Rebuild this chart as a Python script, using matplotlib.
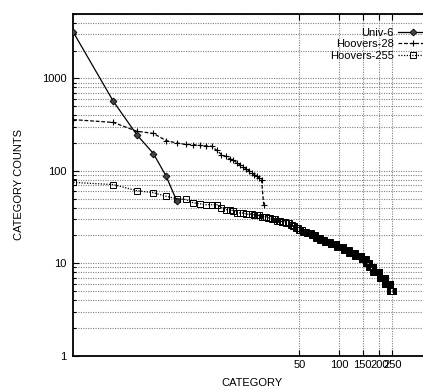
import numpy as np
import matplotlib
matplotlib.use("Agg")
import matplotlib.pyplot as plt
from matplotlib.ticker import FixedLocator, NullLocator, LogLocator, NullFormatter

plt.rcParams['font.family'] = ['Liberation Sans', 'DejaVu Sans']
plt.rcParams['font.size'] = 8

# ---- data ----
univ6 = [3160, 565, 246, 154, 87, 47]
hoovers28 = [358, 334, 268, 254, 212, 200, 193, 192, 188, 186, 184, 166, 150, 143,
             135, 130, 122, 116, 110, 105, 100, 95, 91, 88, 84, 80, 43]
hoovers255 = [
    75, 71, 61, 58, 53, 50, 49, 45, 44, 43, 43, 43, 40, 38, 38, 37,
    35, 35, 35, 34, 34,
    34, 33, 33, 33, 32, 32, 32,
    31, 31, 30, 30, 30, 29, 29,
    29, 28, 28, 28, 27, 27, 27, 26, 26, 25,
    25, 24, 24, 24, 23, 23, 23, 22, 22, 22,
    22, 21, 21, 21, 21, 21, 20, 20, 20, 20,
    20, 19, 19, 19, 19, 19, 18, 18, 18, 18,
    18, 18, 17, 17, 17, 17, 17, 17, 17, 17,
    16, 16, 16, 16, 16, 16, 16, 16, 16, 16,
    15, 15, 15, 15, 15, 15, 15, 15, 15, 15, 15, 15,
    14, 14, 14, 14, 14, 14, 14, 14, 14, 14, 14,
    13, 13, 13, 13, 13, 13, 13, 13, 13, 13, 13, 13, 13,
    12, 12, 12, 12, 12, 12, 12, 12, 12, 12, 12, 12, 12, 12, 12,
    11, 11, 11, 11, 11, 11, 11, 11, 11, 11, 11, 11,
    10, 10, 10, 10, 10, 10, 10, 10, 10,
    9, 9, 9, 9, 9, 9, 9, 9, 9, 9, 9, 9,
    8, 8, 8, 8, 8, 8, 8, 8, 8, 8, 8, 8, 8, 8, 8, 8, 8, 8, 8, 8, 8,
    7, 7, 7, 7, 7, 7, 7, 7, 7, 7, 7, 7, 7, 7, 7, 7, 7, 7, 7, 7,
    6, 6, 6, 6, 6, 6, 6, 6, 6, 6, 6, 6, 6, 6, 6, 6, 6, 6, 6, 6,
    5, 5, 5, 5, 5, 5, 5, 5, 5, 5, 5, 5, 5, 5, 5,
]
labels = ["Univ-6", "Hoovers-28", "Hoovers-255"]
x_ticks = [50, 100, 150, 200, 250]
y_ticks = [1, 10, 100, 1000]

W, H = 423, 389
fig = plt.figure(figsize=(W / 100, H / 100), dpi=100)
left, right, top, bottom = 73.3, 432.3, 13.8, 355.7
ax = fig.add_axes([left / W, 1 - bottom / H, (right - left) / W, (bottom - top) / H])
ax.set_xscale('log')
ax.set_yscale('log')
ax.set_xlim(1, 500)
ax.set_ylim(1, 5000)

grid_kw = dict(color='#808080', linestyle=(0, (1, 1.2)), linewidth=0.8)
ax.xaxis.set_major_locator(FixedLocator(x_ticks))
ax.xaxis.set_minor_locator(NullLocator())
ax.set_xticklabels([str(t) for t in x_ticks])
ax.yaxis.set_major_locator(FixedLocator(y_ticks))
ax.set_yticklabels([str(t) for t in y_ticks])
ax.yaxis.set_minor_locator(LogLocator(base=10, subs=np.arange(2, 10)))
ax.yaxis.set_minor_formatter(NullFormatter())
ax.grid(True, which='major', axis='both', **grid_kw)
ax.grid(True, which='minor', axis='y', **grid_kw)
ax.set_axisbelow(True)

ax.tick_params(which='major', direction='in', length=4, width=0.8, top=True, right=False, pad=3)
ax.tick_params(axis='y', which='major', pad=5)
ax.tick_params(which='minor', direction='in', length=2.5, width=0.8, top=False, right=False)
for s in ['top', 'bottom', 'left']:
    ax.spines[s].set_linewidth(1.3)
ax.spines['right'].set_visible(False)

x6 = np.arange(1, len(univ6) + 1)
x28 = np.arange(1, len(hoovers28) + 1)
x255 = np.arange(1, len(hoovers255) + 1)

ax.plot(x6, univ6, color='black', linestyle='-', linewidth=0.9, marker='D',
        markersize=3.5, markerfacecolor='#444444', markeredgecolor='black',
        markeredgewidth=0.6, label=labels[0], zorder=4)
ax.plot(x28, hoovers28, color='black', linestyle=(0, (3, 1.5)), linewidth=0.9, marker='+',
        markersize=4, markeredgewidth=0.8, label=labels[1], zorder=3)
ax.plot(x255, hoovers255, color='black', linestyle=(0, (1, 1.2)), linewidth=0.9, marker='s',
        markersize=4.2, markerfacecolor='none', markeredgecolor='black',
        markeredgewidth=0.7, label=labels[2], zorder=3)

ax.set_xlabel('CATEGORY', labelpad=6)
ax.set_ylabel('CATEGORY COUNTS', labelpad=13)
ax.xaxis.label.set_position(((252 - left) / (right - left), 0))

leg = fig.legend(loc='upper right', bbox_to_anchor=(1.01, 1 - 28 / H), frameon=False,
                 markerfirst=False, handlelength=2.6, handletextpad=0.4,
                 labelspacing=0.12, borderpad=0, borderaxespad=0, fontsize=8)

fig.savefig('out.png', dpi=100)
